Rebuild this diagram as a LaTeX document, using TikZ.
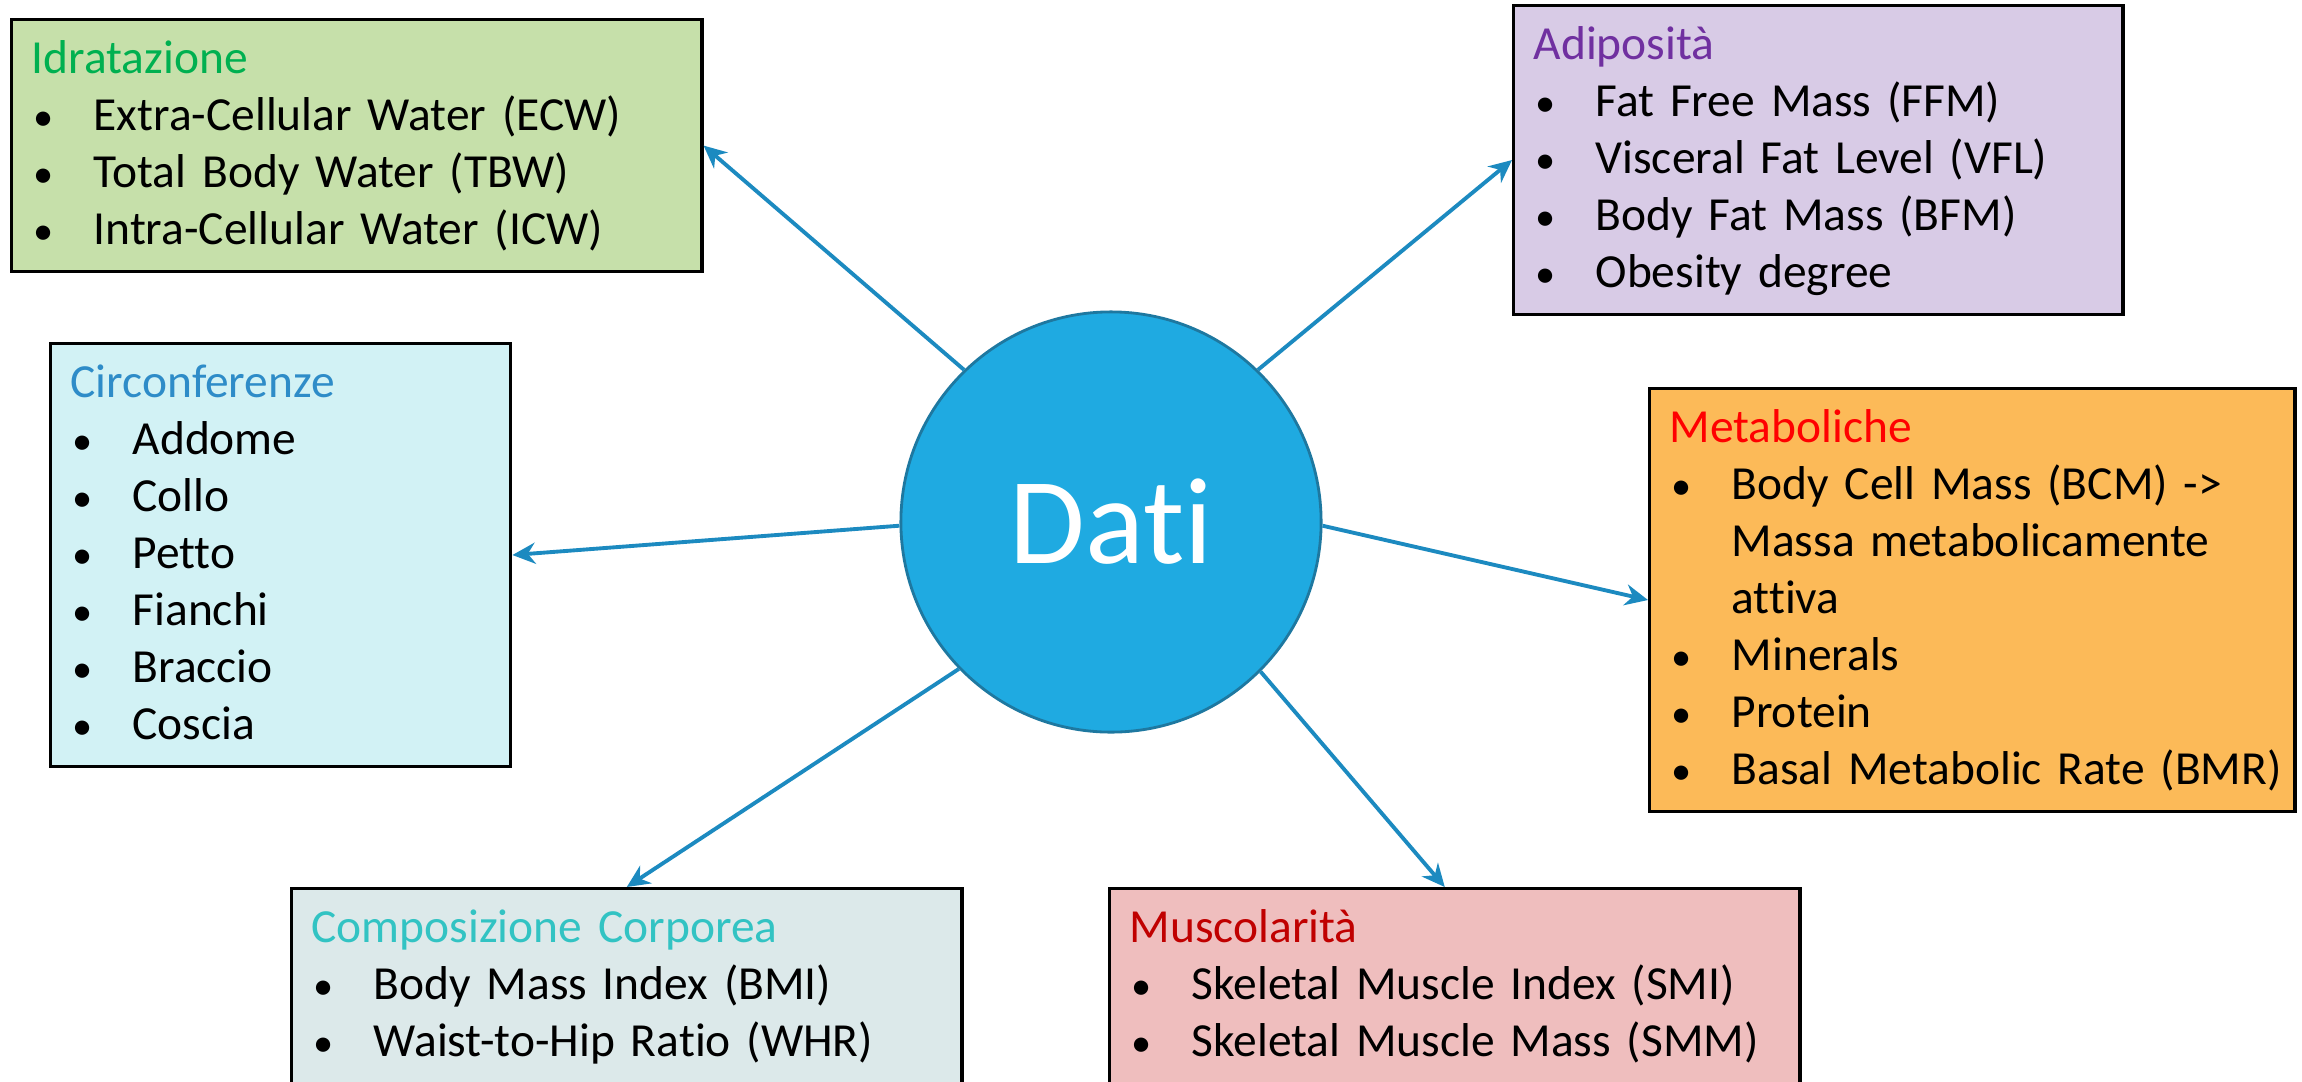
\documentclass[tikz,border=0pt]{standalone}
\usepackage{fontspec}
\setmainfont{Carlito}[Ligatures={TeX,NoCommon}]
\usetikzlibrary{arrows.meta}

\definecolor{idrfill}{RGB}{198,224,170}
\definecolor{adifill}{RGB}{216,203,230}
\definecolor{cirfill}{RGB}{210,242,245}
\definecolor{metfill}{RGB}{252,186,88}
\definecolor{comfill}{RGB}{220,233,234}
\definecolor{musfill}{RGB}{239,190,190}
\definecolor{idrhead}{RGB}{0,176,80}
\definecolor{adihead}{RGB}{112,48,160}
\definecolor{cirhead}{RGB}{46,140,200}
\definecolor{methead}{RGB}{255,0,0}
\definecolor{comhead}{RGB}{50,195,195}
\definecolor{mushead}{RGB}{192,0,0}
\definecolor{hubfill}{RGB}{31,170,225}
\definecolor{hubline}{RGB}{30,120,160}
\definecolor{linkcol}{RGB}{28,138,192}

% title line, bullet lines, wrapped lines
\newcommand{\boxtitle}[2]{\rule{0pt}{0.54cm}\textcolor{#1}{#2}}
\newcommand{\itm}[1]{\\\makebox[0.62cm][l]{\hspace*{0.02cm}\scalebox{0.85}{•}}#1}
\newcommand{\cont}[1]{\\\hspace*{0.62cm}#1}
\newcommand{\lastline}{\rule[-0.27cm]{0pt}{0.27cm}}

\begin{document}
\begin{tikzpicture}[
	x=0.01cm, y=-0.01cm,
	panel/.style={draw=black, line width=0.9pt, fill=#1, inner xsep=0.2cm, inner ysep=0pt,
		align=left, anchor=north west, font=\fontsize{13.5pt}{16.2pt}\selectfont},
	hub/.style={circle, draw=hubline, line width=0.8pt, fill=hubfill, minimum size=4.2cm,
		inner sep=0pt, text=white, font=\fontsize{35pt}{40pt}\selectfont},
	link/.style={draw=linkcol, line width=1.1pt, -{Stealth[length=6.5pt,width=6pt]}}]
\useasboundingbox (0,0) rectangle (2302,1081);

\node[hub] (dati) at (1111,522) {Dati};

\node[panel=idrfill, text width=6.5cm] (idr) at (10,18)
	{\boxtitle{idrhead}{Idratazione}
	\itm{Extra-Cellular Water (ECW)}
	\itm{Total Body Water (TBW)}
	\itm{Intra-Cellular Water (ICW)\lastline}};

\node[panel=adifill, text width=5.69cm] (adi) at (1512,4)
	{\boxtitle{adihead}{Adiposità}
	\itm{Fat Free Mass (FFM)}
	\itm{Visceral Fat Level (VFL)}
	\itm{Body Fat Mass (BFM)}
	\itm{Obesity degree\lastline}};

\node[panel=cirfill, text width=4.2cm] (cir) at (49,342)
	{\boxtitle{cirhead}{Circonferenze}
	\itm{Addome}
	\itm{Collo}
	\itm{Petto}
	\itm{Fianchi}
	\itm{Braccio}
	\itm{Coscia\lastline}};

\node[panel=metfill, text width=6.05cm] (met) at (1648,387)
	{\boxtitle{methead}{Metaboliche}
	\itm{Body Cell Mass (BCM) ->}
	\cont{Massa metabolicamente}
	\cont{attiva}
	\itm{Minerals}
	\itm{Protein}
	\itm{\mbox{Basal Metabolic Rate (BMR)}\lastline}};

\node[panel=comfill, text width=6.3cm] (com) at (290,887)
	{\boxtitle{comhead}{Composizione Corporea}
	\itm{Body Mass Index (BMI)}
	\itm{Waist-to-Hip Ratio (WHR)\lastline}};

\node[panel=musfill, text width=6.5cm] (mus) at (1108,887)
	{\boxtitle{mushead}{Muscolarità}
	\itm{Skeletal Muscle Index (SMI)}
	\itm{Skeletal Muscle Mass (SMM)\lastline}};

\draw[link] (dati.134) -- (idr.east);
\draw[link] (dati.46) -- (adi.west);
\draw[link] (dati.181) -- (cir.east);
\draw[link] (dati.-1) -- (met.west);
\draw[link] (dati.224) -- (com.north);
\draw[link] (dati.-45) -- ([xshift=-0.1cm]mus.north);
\end{tikzpicture}
\end{document}
